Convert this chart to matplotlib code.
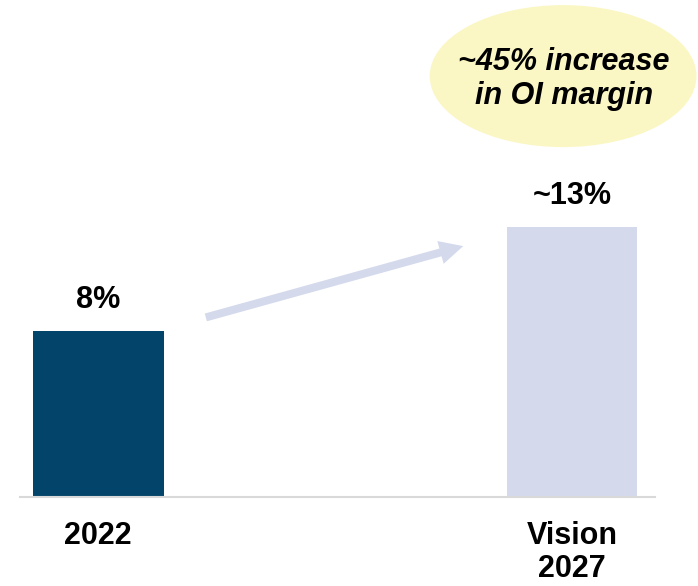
import numpy as np
import matplotlib
matplotlib.use('Agg')
import matplotlib.pyplot as plt
from matplotlib.patches import Ellipse, FancyArrowPatch

plt.rcParams['font.family'] = ['Liberation Sans', 'DejaVu Sans']

# operating income margin, today vs. target
categories = ['2022', 'Vision\n2027']
margins = [8, 13]
value_labels = ['8%', '~13%']
bar_colors = ['#03456A', '#D4DAEC']
callout = '~45% increase\nin OI margin'

fig = plt.figure(figsize=(6.98, 5.86), dpi=100)
ax = fig.add_axes([20/698, 89/586, 635/698, 497/586])

ind = np.arange(len(categories))
width = 0.276
bars = ax.bar(ind, margins, width, color=bar_colors)

for b, lab in zip(bars, value_labels):
    ax.annotate(lab, (b.get_x() + b.get_width()/2, b.get_height()),
                xytext=(0, 16.5), textcoords='offset points',
                ha='center', va='baseline', fontsize=22, fontweight='bold')

ax.set_xlim(-0.165, 1.175)
ax.set_ylim(0, 23.9)
ax.set_xticks(ind)
ax.set_xticklabels(categories, fontsize=22, fontweight='bold', linespacing=1.12)
ax.tick_params(axis='x', length=0, pad=17.5)
ax.set_yticks([])
for s in ['top', 'left', 'right']:
    ax.spines[s].set_visible(False)
ax.spines['bottom'].set_color('#D9D9D9')
ax.spines['bottom'].set_linewidth(1.5)

# growth arrow between the bars
arr = FancyArrowPatch((0.2215, 8.6), (0.776, 12.1),
                      arrowstyle='simple,head_length=1.0,head_width=1.0,tail_width=0.34',
                      mutation_scale=17, color='#D4DAEC', lw=0)
ax.add_patch(arr)

# callout bubble
ell = Ellipse((0.981, 20.24), 0.563, 6.83, facecolor='#FAF7C4',
              edgecolor='none', clip_on=False)
ax.add_patch(ell)
ax.text(0.983, 20.1, callout, ha='center', va='center', fontsize=22,
        fontweight='bold', fontstyle='italic', linespacing=1.15)

fig.savefig('out.png', dpi=100)
